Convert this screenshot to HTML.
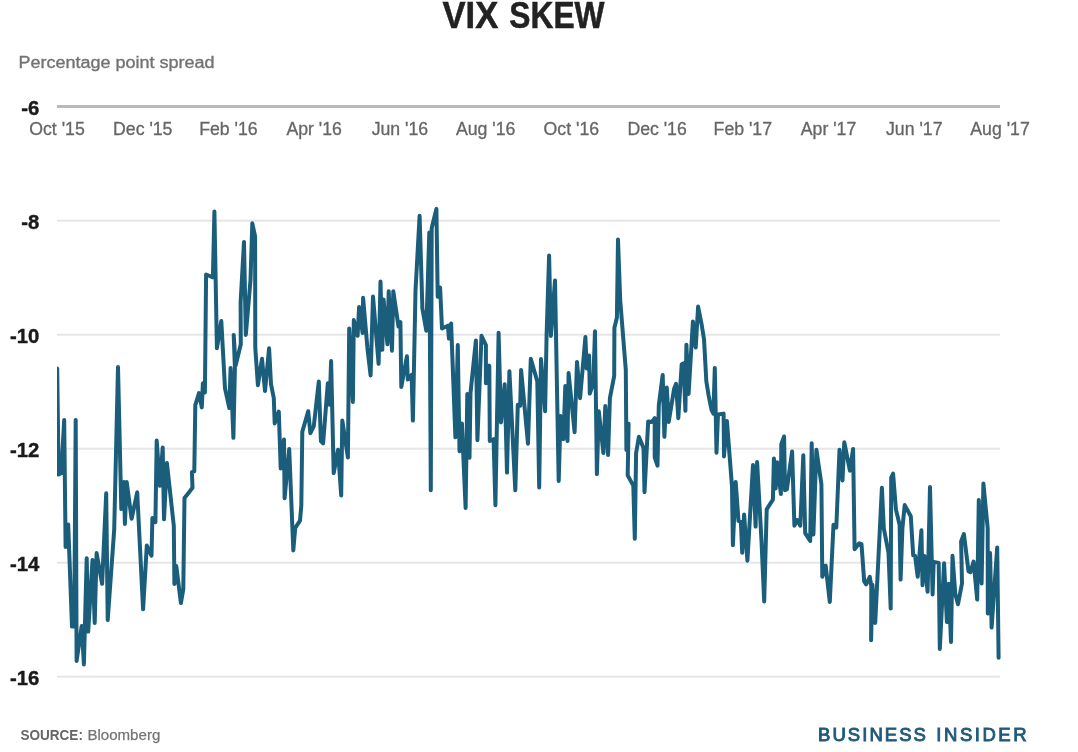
<!DOCTYPE html>
<html><head><meta charset="utf-8"><title>VIX SKEW</title>
<style>
html,body{margin:0;padding:0;background:#fff;}
body{width:1078px;height:752px;overflow:hidden;font-family:"Liberation Sans",sans-serif;}
svg{display:block;}
text{font-family:"Liberation Sans",sans-serif;}
.title{font-weight:bold;font-size:36px;fill:#222;stroke:#222;stroke-width:0.5px;}
.sub{font-size:17.3px;fill:#727272;stroke:#727272;stroke-width:0.35px;}
.yl{font-weight:bold;font-size:20.3px;fill:#1a1a1a;stroke:#1a1a1a;stroke-width:0.4px;}
.xl{font-size:17.7px;fill:#666;stroke:#666;stroke-width:0.3px;}
.src{font-size:15px;fill:#747474;stroke:#747474;stroke-width:0.25px;}
.src.b{font-weight:bold;fill:#666;stroke:none;}
.bi{font-size:18.5px;fill:#1f5a7a;stroke:#1f5a7a;stroke-width:0.9px;}
</style></head>
<body>
<svg width="1078" height="752" viewBox="0 0 1078 752">
<rect width="1078" height="752" fill="#fff"/>
<text x="442.5" y="28" class="title" textLength="55.8" lengthAdjust="spacingAndGlyphs">VIX</text>
<text x="509.3" y="28" class="title" textLength="95.2" lengthAdjust="spacingAndGlyphs">SKEW</text>
<text x="18.5" y="68" class="sub" textLength="196" lengthAdjust="spacingAndGlyphs">Percentage point spread</text>
<rect x="57" y="105" width="943" height="3" fill="#b9b9b9"/>
<rect x="57" y="219.7" width="943" height="2" fill="#e6e6e6"/><rect x="57" y="333.7" width="943" height="2" fill="#e6e6e6"/><rect x="57" y="447.7" width="943" height="2" fill="#e6e6e6"/><rect x="57" y="561.7" width="943" height="2" fill="#e6e6e6"/><rect x="57" y="675.7" width="943" height="2" fill="#e6e6e6"/>
<text x="39.4" y="114.5" class="yl" text-anchor="end">-6</text><text x="39.4" y="229" class="yl" text-anchor="end">-8</text><text x="39.4" y="343" class="yl" text-anchor="end">-10</text><text x="39.4" y="457" class="yl" text-anchor="end">-12</text><text x="39.4" y="571" class="yl" text-anchor="end">-14</text><text x="39.4" y="685" class="yl" text-anchor="end">-16</text>
<text x="57" y="135.1" class="xl" text-anchor="middle">Oct '15</text><text x="142.727" y="135.1" class="xl" text-anchor="middle">Dec '15</text><text x="228.455" y="135.1" class="xl" text-anchor="middle">Feb '16</text><text x="314.182" y="135.1" class="xl" text-anchor="middle">Apr '16</text><text x="399.909" y="135.1" class="xl" text-anchor="middle">Jun '16</text><text x="485.636" y="135.1" class="xl" text-anchor="middle">Aug '16</text><text x="571.364" y="135.1" class="xl" text-anchor="middle">Oct '16</text><text x="657.091" y="135.1" class="xl" text-anchor="middle">Dec '16</text><text x="742.818" y="135.1" class="xl" text-anchor="middle">Feb '17</text><text x="828.545" y="135.1" class="xl" text-anchor="middle">Apr '17</text><text x="914.273" y="135.1" class="xl" text-anchor="middle">Jun '17</text><text x="1000" y="135.1" class="xl" text-anchor="middle">Aug '17</text>
<defs><clipPath id="plotclip"><rect x="57" y="180" width="946" height="520"/></clipPath></defs>
<path clip-path="url(#plotclip)" d="M57.2,368.5 L58.6,474.5 L61.2,473.3 L64.2,420.1 L65.6,546.9 L67.3,546.4 L68.2,524.4 L72,626.6 L74.2,626.6 L75.7,420.1 L76.6,661 L81.7,626 L83.9,664.4 L86.7,558.2 L88.2,631.6 L92.5,560.1 L94.7,622.9 L96.6,553 L102.1,583.8 L106.2,493.3 L107.7,620.1 L114.2,529.6 L118,367 L121.3,509.1 L123.9,482.1 L124.9,524 L126.7,482.1 L131.6,518.8 L137.2,492.3 L143.1,609.3 L146.8,545.6 L151.5,555.7 L152.4,518 L155.4,522.1 L156.7,440.6 L159.9,485.8 L162.7,447.6 L164,519.3 L166.9,462.9 L173.8,525.9 L174.4,584 L176.3,565.9 L180.9,603.1 L183.3,589.2 L184.5,497.9 L189.7,491.4 L192.5,487.7 L191.9,472.2 L194.3,471.3 L195.3,405.2 L199,393.1 L201.8,407.4 L202.9,383.2 L204.9,392.5 L206.1,274.5 L212.9,277.3 L214.4,211.5 L216.9,348.2 L221.3,321 L225,388.4 L229.3,408 L230.6,367.9 L233.4,437.8 L234.9,367.6 L233.7,334.9 L235.6,365.6 L240.8,344.2 L240.6,302.4 L244,241.9 L245.8,334.9 L250.5,280.1 L252.3,223.3 L255.1,236.3 L255.3,347.9 L257.9,385.2 L262,358.7 L265,391.1 L269.1,348.3 L271,384.2 L273.8,398.2 L274.7,423.4 L278.8,411.6 L280.7,468.4 L284,439.6 L284.6,498.2 L289.2,448.9 L293.3,550.4 L295.2,528 L300,520.6 L301.3,505.7 L302.3,431.7 L308.2,411.2 L310.4,433.2 L313.8,426.1 L318.8,381.5 L320.9,441 L323.1,443.3 L327.8,383.3 L329.6,404.7 L331.1,361 L333.7,473.1 L338,449.8 L341.2,495.4 L342.3,420.6 L347.9,457.4 L349.2,328.4 L352.9,401.9 L353.8,320.1 L357.6,335.8 L359.1,307.1 L362.6,333 L363.1,297.8 L367.4,347.9 L370.6,375.5 L373,296.5 L378.6,363.8 L380.5,281.4 L382.3,349.8 L383.6,299.6 L387.4,344.2 L388.7,291.2 L392,350.7 L393.3,291.2 L398.5,326.6 L400.4,322 L401.3,387 L406.9,356.3 L407.8,379.6 L411.6,374.9 L412.9,420.6 L415.5,290.7 L419.6,215.8 L422.4,308.6 L426.3,330.7 L429.3,232.6 L430.8,490.3 L431.7,227.9 L436.4,208.9 L437.7,296.8 L440.1,287.5 L442,328.5 L447.9,325.7 L448.9,338.6 L451.1,323.4 L455.4,437.3 L457.8,345.1 L459.5,451.3 L461.9,423.4 L465.6,508 L467.3,394.1 L469.5,457.8 L470.5,393 L475.9,340.5 L477.4,440.1 L481.5,335.8 L485.9,345 L485.9,383.3 L489.3,365.6 L489.8,441 L493.6,439.2 L495.4,505.2 L498.6,332.7 L501,422.4 L504.7,384.2 L507,472.6 L509.4,371.2 L515.3,490.3 L517.8,404.7 L520.2,405.7 L521.1,369.9 L528,443.8 L530.8,358.7 L537.3,381.5 L539.2,487.5 L541,359.1 L545.1,411.2 L546.6,334.9 L549.1,255.5 L550.9,335.9 L555,280.4 L558.7,481 L560.6,415.9 L563.4,439.2 L565.3,386.1 L567.5,441 L568.6,373.1 L574.6,432.3 L577,361.9 L580.1,398.2 L585.4,337.1 L586.7,368.4 L589.1,355.4 L589.8,393.6 L593.2,383.3 L595,331.2 L596.9,474.1 L598.8,411.2 L603.4,453.1 L605.3,406 L608.1,454.9 L609.9,398.2 L614.2,375.9 L614.4,327.8 L616.9,317.8 L618,239.6 L620.2,300.1 L625.8,369.8 L626.4,449.9 L628.6,423.8 L627.7,475.4 L633.3,485.6 L634.8,538.7 L636.1,453 L638.9,436.8 L643.5,448 L644.5,492.1 L648.2,421.4 L651.9,421.9 L654.7,418.2 L654.7,457.3 L657.5,465.7 L658.8,405.2 L662.7,375 L664.4,436.8 L666.8,387.5 L668.7,421.9 L674.2,388.4 L676.1,383.8 L678.3,418.2 L681.7,364.2 L683.6,363.3 L685.4,410.8 L686.4,344.7 L688.6,394 L692.9,321.5 L695.7,347.6 L698.1,306.6 L701.6,324.3 L704,339.2 L705.3,362.3 L706.3,381 L708.7,395.9 L711.5,409.8 L713.4,413.6 L714.8,367.9 L716.5,452.7 L718,414.5 L723.6,413.6 L724,456.4 L726.9,421 L732,486.6 L732.9,545.2 L735.7,481.9 L738.5,521 L740.9,521.9 L742.2,552.7 L744.1,514.5 L747.4,560.7 L753,465.1 L755.6,526.6 L757.1,462 L761.5,541 L764.2,601.5 L766.7,509.3 L772.9,499.6 L773.9,458.6 L775.7,488.4 L777.2,462.3 L780.9,494 L781.3,444.3 L784.1,436.5 L785,490.3 L786.9,489.3 L792.1,451.5 L794.4,525.7 L797.2,520.1 L800.3,525.7 L803.3,455.3 L805.2,533.1 L810.2,541 L811.7,443.3 L813.4,534.5 L816.4,449.8 L821.4,484.2 L822.3,576.8 L825.7,565.7 L829.8,602 L833.5,524.7 L836.3,527.5 L839.5,449.8 L842.5,480.5 L844.3,442.3 L849.9,470.7 L853.1,448.9 L854.6,549.3 L859.2,543.3 L861.5,544.2 L864.2,581.5 L866.1,584.3 L869.8,576.8 L871.3,586.1 L871.1,640.2 L872.4,584.7 L875.2,622.9 L881.9,487.8 L883.8,528.4 L888.5,552.6 L890.7,608.5 L891.2,477.7 L893.1,473.6 L895.9,509.4 L899.6,524.7 L900.6,579.6 L902.4,528.4 L904.7,505.1 L910.8,516.3 L913.2,555.4 L915.1,556 L917.7,576.8 L921.4,530.3 L922.5,585.2 L924.4,556 L927.6,591.7 L930,487.1 L932.6,594.5 L933.7,561.9 L938.7,562.9 L939.8,648.9 L944.1,563.3 L946.9,621.9 L948.7,583.8 L951,642 L952.5,555.8 L955.3,594 L958,604.2 L962,583.4 L961.1,541.5 L963.9,534 L968.5,571.2 L970.4,572.2 L973.6,561.6 L977.2,599.6 L978.8,500.1 L981.6,583.4 L983.4,483.4 L987.7,528.4 L987.8,613.6 L990.1,553 L991.6,627.5 L997.2,547.4 L998.6,657.7" fill="none" stroke="#1a5e7c" stroke-width="4" stroke-linejoin="round" stroke-linecap="round"/>
<text x="20.5" y="740.3" class="src b" textLength="62.4" lengthAdjust="spacingAndGlyphs">SOURCE:</text>
<text x="87.4" y="740.3" class="src" textLength="72.9" lengthAdjust="spacingAndGlyphs">Bloomberg</text>
<text x="818.1" y="740.6" class="bi" textLength="107.8" lengthAdjust="spacing">BUSINESS</text>
<text x="936.3" y="740.6" class="bi" textLength="90.3" lengthAdjust="spacing">INSIDER</text>
</svg>
</body></html>
